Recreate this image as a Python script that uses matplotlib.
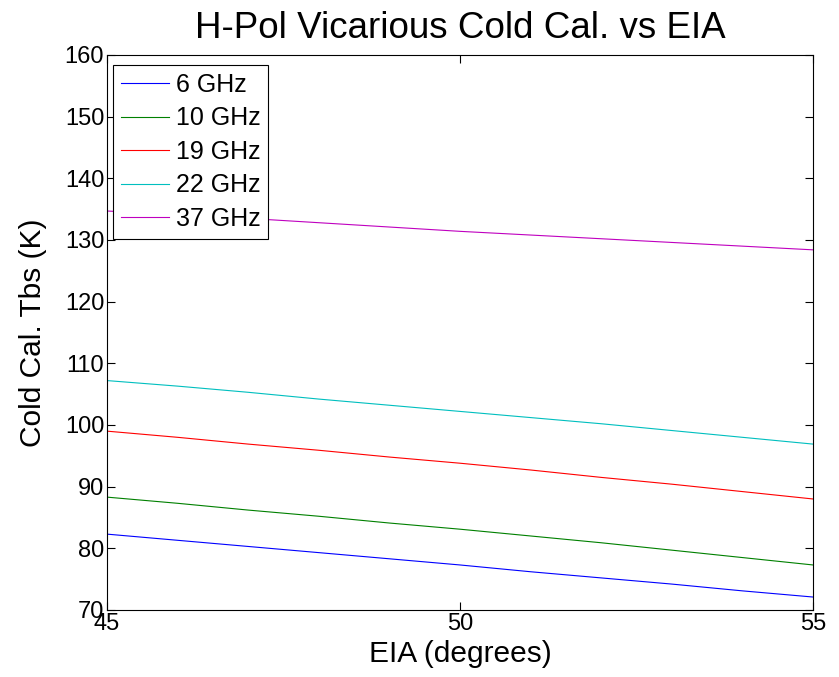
import matplotlib
matplotlib.use('Agg')
import matplotlib.pyplot as plt
import numpy as np

plt.rcParams['font.family'] = ['Liberation Sans', 'DejaVu Sans']

eia = [45, 46, 47, 48, 49, 50, 51, 52, 53, 54, 55]
tb_6 = [82.3, 81.3, 80.3, 79.3, 78.3, 77.3, 76.2, 75.2, 74.2, 73.1, 72.1]
tb_10 = [88.3, 87.3, 86.2, 85.2, 84.1, 83.1, 82.0, 80.9, 79.7, 78.5, 77.3]
tb_19 = [99.0, 98.0, 96.9, 95.9, 94.8, 93.8, 92.7, 91.5, 90.4, 89.2, 88.0]
tb_22 = [107.2, 106.3, 105.3, 104.2, 103.2, 102.2, 101.2, 100.2, 99.1, 98.0, 96.9]
tb_37 = [134.7, 134.1, 133.5, 132.8, 132.1, 131.4, 130.8, 130.2, 129.6, 129.0, 128.4]
labels = ['6 GHz', '10 GHz', '19 GHz', '22 GHz', '37 GHz']
colors = ['#0000ff', '#008000', '#ff0000', '#00bfbf', '#bf00bf']

fig = plt.figure(figsize=(8.39, 6.77), dpi=100)
ax = fig.add_axes([0.1275, 0.099, 0.8415, 0.8198])

for y, lab, c in zip([tb_6, tb_10, tb_19, tb_22, tb_37], labels, colors):
    ax.plot(eia, y, color=c, lw=0.8, label=lab)

ax.set_xlim(45, 55)
ax.set_ylim(70, 160)
ax.set_xticks([45, 50, 55])
ax.set_yticks(np.arange(70, 161, 10))
ax.tick_params(direction='in', length=6, width=0.8, top=True, right=True,
               labelsize=17, pad=2)
for s in ax.spines.values():
    s.set_linewidth(0.8)

ax.set_title('H-Pol Vicarious Cold Cal. vs EIA', fontsize=26.5, pad=12)
ax.set_xlabel('EIA (degrees)', fontsize=21.5, labelpad=4)
ax.set_ylabel('Cold Cal. Tbs (K)', fontsize=21.5, labelpad=13)

leg = ax.legend(loc='upper left', bbox_to_anchor=(0.008, 0.982), fontsize=18,
                fancybox=False, framealpha=1, edgecolor='black', borderaxespad=0,
                handlelength=1.95, handletextpad=0.25, labelspacing=0.38,
                borderpad=0.32)
leg.get_frame().set_linewidth(0.8)

plt.savefig('out.png', dpi=100)
